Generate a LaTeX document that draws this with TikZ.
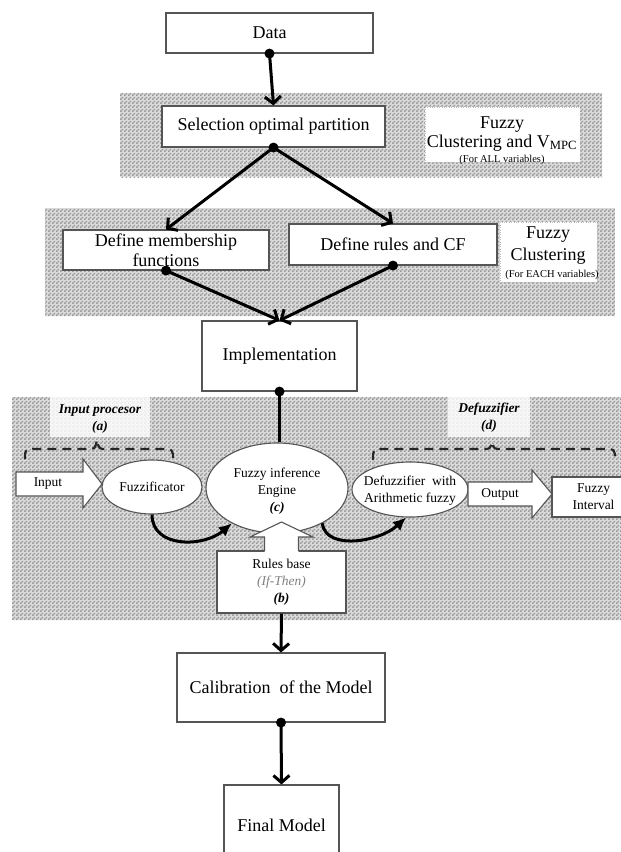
\documentclass[tikz,border=0pt]{standalone}
\usepackage{fontspec}
\setmainfont{Liberation Serif}
\usetikzlibrary{arrows.meta,shapes.geometric,patterns}
\pgfdeclarepatternformonly{chk}{\pgfqpoint{0pt}{0pt}}{\pgfqpoint{4pt}{4pt}}{\pgfqpoint{4pt}{4pt}}{%
  \pgfpathrectangle{\pgfpointorigin}{\pgfqpoint{2pt}{2pt}}%
  \pgfpathrectangle{\pgfqpoint{2pt}{2pt}}{\pgfqpoint{2pt}{2pt}}%
  \pgfusepath{fill}}
\definecolor{edge}{HTML}{555555}
\begin{document}
\begin{tikzpicture}[x=1pt,y=-1pt,
  band/.style={fill=gray!28},
  bandpat/.style={pattern=chk, pattern color=gray!80},
  box/.style={draw=edge, line width=1.1pt, fill=white, rectangle, inner sep=0pt, align=center, font=\fontsize{18}{20}\selectfont},
  ibox/.style={draw=edge, line width=1.1pt, fill=white, rectangle, inner sep=0pt, align=center, font=\fontsize{13.5}{17}\selectfont},
  ell/.style={draw=edge, line width=1.1pt, fill=white, ellipse, inner sep=0pt},
  itxt/.style={align=center, font=\fontsize{13.5}{17}\selectfont, inner sep=0pt},
  btxt/.style={align=center, font=\fontsize{13.5}{16}\selectfont\bfseries\itshape, inner sep=0pt},
  ltxt/.style={align=center, font=\fontsize{18}{20}\selectfont, inner sep=0pt},
  stxt/.style={align=center, font=\fontsize{10.5}{12}\selectfont, inner sep=0pt},
  outline/.style={draw=edge, line width=1.1pt},
  conn/.style={line width=3pt, -{Straight Barb[length=7pt,width=16pt]}},
  plain/.style={line width=3pt},
  carrow/.style={line width=3pt, -{Latex[length=13pt,width=12pt]}},
  brace/.style={line width=2.2pt, black!85, dash pattern=on 9pt off 6pt},
  dotr/.style={fill=black}
]
\clip (0,0) rectangle (621,852);
\fill[white] (0,0) rectangle (621,852);

% bands
\fill[band] (120,93) rectangle (602,177);
\fill[bandpat] (120,93) rectangle (602,177);
\fill[band] (45,208) rectangle (615,316);
\fill[bandpat] (45,208) rectangle (615,316);
\fill[band] (12,397) rectangle (625,620);
\fill[bandpat] (12,397) rectangle (625,620);

% band 1
\node[box, minimum width=207pt, minimum height=40pt] (data) at (269.5,33) {Data};
\node[box, minimum width=223pt, minimum height=41pt] (sel) at (273.5,126.5) {Selection optimal partition};
\node[fill=white, draw=gray!50, dotted, minimum width=155pt, minimum height=55pt, inner sep=0pt] (lab1) at (502.5,134.5) {};
\node[ltxt] (lab1a) at (502,125) {Fuzzy};
\node[ltxt] (lab1b) at (502,143) {Clustering and V\textsubscript{MPC}};
\node[stxt] (lab1c) at (502,160) {(For ALL variables)};

% band 2
\node[box, minimum width=206pt, minimum height=40pt] (mem) at (166,250) {Define membership\\functions};
\node[box, minimum width=208pt, minimum height=41pt] (rul) at (393,244.5) {Define rules and CF};
\node[fill=white, draw=gray!50, dotted, minimum width=97pt, minimum height=60pt, inner sep=0pt] (lab2) at (548.5,252) {};
\node[ltxt] (lab2a) at (548,235) {Fuzzy};
\node[ltxt] (lab2b) at (548,256) {Clustering};
\node[stxt] (lab2c) at (552,275) {(For EACH variables)};

\node[box, minimum width=155pt, minimum height=70pt] (impl) at (279.5,356) {Implementation};

% band 3 labels
\fill[white, opacity=0.8] (50,397) rectangle (150,437);
\node[btxt] (lipa) at (100,411) {Input procesor};
\node[btxt] (lipb) at (100,427) {(a)};
\fill[white, opacity=0.8] (448,397) rectangle (530,437);
\node[btxt] (ldfa) at (489,409) {Defuzzifier};
\node[btxt] (ldfb) at (489,426) {(d)};

% braces
\draw[brace] (25,459) .. controls (25,449) .. (37,449) -- (88,449) .. controls (95,449) .. (97,440) .. controls (99,449) .. (106,449) -- (161,449) .. controls (173,449) .. (173,460);
\draw[brace] (373,460) .. controls (373,449) .. (385,449) -- (483,449) .. controls (490,449) .. (492,442) .. controls (494,449) .. (501,449) -- (603,449) .. controls (615,449) .. (615,460);

% fuzzy system
\node[ell, minimum width=100pt, minimum height=54pt] (fuz) at (152,487) {};
\node[itxt] (fuzt) at (fuz) {Fuzzificator};
\filldraw[outline, fill=white] (16,472) -- (83,472) -- (83,459) -- (102,484) -- (83,508) -- (83,496) -- (16,496) -- cycle;
\node[itxt] (inp) at (48,484) {Input};

\node[ell, minimum width=142pt, minimum height=90pt] (inf) at (277,488) {};
\node[itxt] (inft) at (277,491) {Fuzzy inference\\Engine\\\textbf{\textit{(c)}}};

\node[ell, minimum width=116pt, minimum height=55pt] (defz) at (410,489.5) {};
\node[itxt] (defzt) at (410,491) {Defuzzifier\ \ with\\Arithmetic fuzzy};
\filldraw[outline, fill=white] (468,482) -- (532,482) -- (532,470) -- (552,494) -- (532,518) -- (532,506) -- (468,506) -- cycle;
\node[itxt] (outp) at (500,494) {Output};
\node[ibox, minimum width=83pt, minimum height=40pt] (fint) at (593.5,497) {Fuzzy\\Interval};

\node[ibox, minimum width=129pt, minimum height=62pt] (rb) at (281.5,582) {Rules base\\\textcolor{gray}{\textit{(If-Then)}}\\\textbf{\textit{(b)}}};
\fill[white] (264.5,552) -- (264.5,537) -- (250,537) -- (281.5,522) -- (313,537) -- (298.5,537) -- (298.5,552) -- cycle;
\draw[outline] (264.5,551) -- (264.5,537) -- (250,537) -- (281.5,522) -- (313,537) -- (298.5,537) -- (298.5,551);

\draw[carrow] (fuz.south) .. controls +(0,34) and +(-28,24) .. (inf.218);
\draw[carrow] (inf.322) .. controls +(4,28) and +(-26,24) .. (defz.262);

% lower boxes
\node[box, minimum width=208pt, minimum height=69pt] (calib) at (281,687.5) {Calibration\ \ of the Model};
\node[box, minimum width=115pt, minimum height=80pt] (final) at (281.5,825) {Final Model};

% connectors
\draw[conn] (data.south) -- (sel.north);
\draw[conn] (sel.south) -- (mem.north);
\draw[conn] (sel.south) -- (rul.north);
\draw[conn] (mem.south) -- (impl.north);
\draw[conn] (rul.south) -- (impl.north);
\draw[plain] (impl.south) -- (impl.south |- inf.north);
\draw[conn] (rb.south) -- (calib.north);
\draw[conn] (calib.south) -- (final.north);

% dots
\fill[dotr] (data.south) circle (5pt);
\fill[dotr] (sel.south) circle (5pt);
\fill[dotr] (mem.south) circle (5pt);
\fill[dotr] (rul.south) circle (5pt);
\fill[dotr] (impl.south) circle (5pt);
\fill[dotr] (calib.south) circle (5pt);
\end{tikzpicture}
\end{document}
